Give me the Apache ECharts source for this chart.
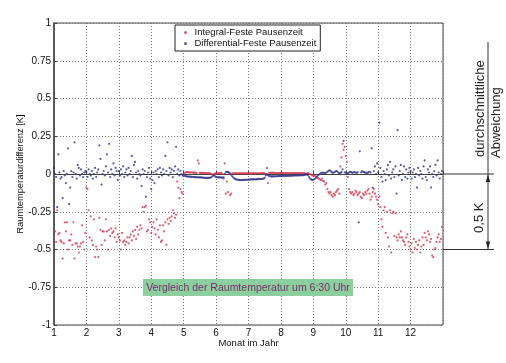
<!DOCTYPE html>
<html>
<head>
<meta charset="utf-8">
<script src="https://cdn.jsdelivr.net/npm/echarts@6/dist/echarts.min.js"></script>
<style>html,body{margin:0;padding:0;background:#fff}#c{width:506px;height:363px}</style>
</head>
<body>
<div id="c"></div>
<script>
// Month ticks (x axis), y ticks
const monthTicks = [1,2,3,4,5,6,7,8,9,10,11,12,13];
const yTicks = [-1,-0.75,-0.5,-0.25,0,0.25,0.5,0.75,1];
const seriesNames = ['Integral-Feste Pausenzeit', 'Differential-Feste Pausenzeit'];

// Daily values per month (Jan..Dec), Integral-Feste Pausenzeit
const integralValues = [
 [-0.42,-0.38,-0.45,-0.24,-0.4,-0.39,-0.44,-0.45,-0.56,-0.46,-0.32,-0.38,-0.32,-0.5,-0.44,-0.44,-0.4,-0.47,-0.32,-0.56,-0.46,-0.46,-0.48,-0.52,-0.48,-0.46,-0.34,-0.45,-0.5,-0.39],
 [-0.09,-0.1,-0.24,-0.42,-0.28,-0.44,-0.47,-0.3,-0.55,-0.48,-0.5,-0.55,-0.29,-0.37,-0.47,-0.38,-0.38,-0.44,-0.3,-0.38,-0.5,-0.37,-0.41,-0.36,-0.39,-0.38,-0.42,-0.36,-0.45,-0.4],
 [-0.42,-0.44,-0.5,-0.39,-0.45,-0.44,-0.47,-0.45,-0.42,-0.46,-0.42,-0.4,-0.44,-0.38,-0.41,-0.37,-0.43,-0.35,-0.4,-0.37,-0.34,-0.36,-0.22,-0.25,-0.22,-0.21,-0.38,-0.37,-0.3,-0.32],
 [-0.39,-0.35,-0.32,-0.36,-0.4,-0.3,-0.37,-0.42,-0.34,-0.45,-0.44,-0.34,-0.38,-0.32,-0.47,-0.3,-0.33,-0.29,-0.31,-0.28,-0.24,-0.26,-0.29,-0.27,-0.05,-0.09,-0.16,-0.1,-0.12,-0.13],
 [0.0,0.008,0.01,0.012,0.012,0.011,0.01,0.01,0.01,0.009,0.009,0.008,0.008,0.09,0.07,0.008,0.007,0.007,0.007,0.006,0.006,0.006,0.005,0.005,0.004,0.003,0.0,-0.006,-0.002,0.004],
 [0.004,0.005,0.005,0.006,0.006,0.006,0.0,-0.03,0.07,-0.13,-0.05,-0.12,0.0,-0.14,-0.13,0.004,0.005,0.005,0.005,0.005,0.005,0.005,0.005,0.005,0.004,0.004,0.004,0.004,0.004,0.004],
 [0.004,0.004,0.004,0.004,0.004,0.005,0.005,0.005,0.005,0.005,0.005,0.005,0.006,0.006,0.006,0.005,0.0,0.04,-0.06,0.006,0.007,0.007,0.007,0.007,0.007,0.006,0.006,0.006,0.006,0.006],
 [0.006,0.006,0.006,0.006,0.006,0.006,0.006,0.006,0.006,0.006,0.006,0.006,0.006,0.006,0.006,0.006,0.006,0.006,0.006,0.006,0.006,0.006,0.004,0.0,-0.004,0.004,0.002,0.0,-0.005,-0.01],
 [-0.012,-0.01,-0.015,-0.02,-0.025,-0.03,-0.035,-0.04,-0.03,-0.045,-0.05,-0.07,-0.06,-0.1,-0.12,-0.13,-0.12,-0.14,-0.15,-0.13,-0.14,-0.12,-0.11,-0.1,-0.13,0.05,0.11,0.2,0.16,0.18],
 [0.12,0.08,-0.02,-0.1,-0.12,-0.13,-0.12,-0.14,-0.13,-0.11,-0.12,-0.14,-0.13,-0.12,-0.15,-0.16,-0.13,-0.14,-0.12,-0.13,-0.11,-0.1,-0.13,-0.17,-0.15,-0.12,-0.1,-0.13,-0.15,-0.17],
 [-0.2,-0.15,-0.22,-0.3,-0.35,-0.24,-0.22,-0.39,-0.25,-0.42,-0.48,-0.24,-0.52,-0.26,-0.25,-0.41,-0.26,-0.42,-0.44,-0.4,-0.42,-0.38,-0.42,-0.44,-0.45,-0.47,-0.42,-0.4,-0.45,-0.48],
 [-0.5,-0.46,-0.52,-0.43,-0.49,-0.45,-0.5,-0.47,-0.44,-0.52,-0.48,-0.42,-0.47,-0.39,-0.42,-0.44,-0.38,-0.4,-0.45,-0.43,-0.54,-0.55,-0.5,-0.49,-0.45,-0.42,-0.4,-0.45,-0.43,-0.35]
];

// Daily values per month (Jan..Dec), Differential-Feste Pausenzeit
const differentialValues = [
 [0.04,0.0,-0.02,-0.22,0.13,0.01,-0.03,-0.02,-0.16,0.02,-0.01,-0.06,0.0,0.17,-0.2,-0.09,0.02,-0.02,0.01,0.21,0.0,-0.03,0.06,0.04,-0.01,0.03,0.0,-0.02,0.01,0.02],
 [0.01,-0.02,0.03,0.0,-0.01,0.02,-0.03,0.0,0.04,-0.02,0.01,0.03,0.19,0.1,-0.07,0.0,0.02,-0.01,0.05,0.13,0.01,0.2,-0.02,0.03,0.0,0.07,-0.01,0.04,0.02,-0.04],
 [0.02,-0.01,0.03,0.0,0.05,-0.02,0.01,0.03,-0.01,0.04,0.0,0.02,0.12,-0.02,0.06,0.08,0.01,-0.03,0.02,0.0,-0.01,-0.08,0.03,0.0,0.02,-0.15,-0.02,0.01,0.04,-0.03],
 [-0.1,-0.04,0.01,-0.06,0.02,0.0,0.03,-0.02,0.04,0.01,-0.01,0.03,0.0,0.12,0.02,0.21,-0.01,0.04,0.01,0.03,-0.02,0.02,0.05,0.18,0.0,0.03,-0.01,0.02,0.0,-0.01],
 [-0.01,-0.012,-0.015,-0.016,-0.017,-0.018,-0.018,-0.019,-0.02,-0.02,-0.021,-0.021,-0.022,-0.022,-0.022,-0.023,-0.023,-0.024,-0.024,-0.025,-0.025,-0.025,-0.026,-0.026,-0.025,-0.024,-0.02,-0.012,-0.008,-0.015],
 [-0.02,-0.022,-0.022,-0.023,-0.023,-0.024,-0.024,-0.022,0.0,0.012,0.015,0.014,0.01,0.004,-0.005,-0.015,-0.024,-0.03,-0.034,-0.037,-0.038,-0.039,-0.04,-0.04,-0.04,-0.04,-0.039,-0.039,-0.038,-0.038],
 [-0.037,-0.037,-0.036,-0.036,-0.036,-0.035,-0.035,-0.035,-0.034,-0.034,-0.034,-0.033,-0.033,-0.032,-0.03,-0.025,-0.01,0.0,-0.008,-0.012,-0.015,-0.016,-0.016,-0.016,-0.015,-0.015,-0.015,-0.014,-0.014,-0.014],
 [-0.014,-0.013,-0.013,-0.013,-0.012,-0.012,-0.012,-0.012,-0.011,-0.011,-0.011,-0.011,-0.01,-0.01,-0.01,-0.01,-0.01,-0.009,-0.009,-0.009,-0.008,-0.008,-0.006,-0.003,0.002,-0.008,-0.02,-0.03,-0.036,-0.04],
 [-0.038,-0.034,-0.028,-0.02,-0.012,-0.005,0.0,0.005,0.008,0.01,0.006,0.004,0.01,0.015,0.02,0.025,0.02,0.012,0.008,0.01,0.015,0.02,0.018,0.01,0.005,0.008,0.012,0.03,0.22,0.01],
 [0.01,0.0,0.005,0.01,0.015,0.012,0.008,0.01,0.015,0.01,0.005,0.012,-0.32,0.15,0.01,0.02,0.015,0.012,0.008,0.01,0.005,0.012,0.015,0.01,0.17,-0.09,0.02,0.05,0.0,0.07],
 [0.01,0.34,0.04,-0.02,-0.05,0.02,0.0,-0.04,0.03,0.06,-0.01,0.08,-0.03,0.01,0.03,-0.02,0.05,-0.13,0.29,-0.01,0.02,0.06,-0.04,0.0,0.05,-0.02,0.03,-0.03,0.01,0.04],
 [0.02,-0.03,0.01,0.03,-0.02,0.0,-0.09,0.04,-0.01,0.02,0.0,-0.03,0.05,0.09,-0.02,-0.04,0.03,0.01,0.05,-0.09,0.0,-0.02,0.02,0.06,-0.01,0.09,0.01,-0.03,0.0,0.02]
];

function toPoints(months) {
  const pts = [];
  months.forEach(function (vals, m) {
    vals.forEach(function (v, j) {
      pts.push([monthTicks[m] + j / vals.length, v]);
    });
  });
  return pts;
}

const FONT = 'Liberation Sans, Arial, Helvetica, sans-serif';
const chart = echarts.init(document.getElementById('c'), null, {renderer: 'canvas'});

const option = {
  animation: false,
  backgroundColor: '#ffffff',
  textStyle: {fontFamily: FONT},
  grid: {left: 54, right: 63, top: 23, bottom: 38, show: true, borderColor: '#444', borderWidth: 1, backgroundColor: 'transparent'},
  legend: {
    left: 175, top: 25, orient: 'vertical',
    backgroundColor: '#fff', borderColor: '#222', borderWidth: 1, borderRadius: 0,
    padding: [2, 4, 2, 9], itemGap: 0, itemWidth: 8, itemHeight: 3,
    textStyle: {fontSize: 9.5, color: '#111', fontFamily: FONT, lineHeight: 11},
    data: [{name: seriesNames[0], icon: 'circle'}, {name: seriesNames[1], icon: 'circle'}]
  },
  xAxis: {
    type: 'value', min: monthTicks[0], max: monthTicks[monthTicks.length - 1], interval: 1,
    name: 'Monat im Jahr', nameLocation: 'middle', nameGap: 13, nameMoveOverlap: false,
    nameTextStyle: {fontSize: 9.5, color: '#111', fontFamily: FONT},
    axisLine: {lineStyle: {color: '#444', width: 1}},
    axisTick: {inside: true, length: 3, lineStyle: {color: '#444'}},
    axisLabel: {fontSize: 10, color: '#111', margin: 3, fontFamily: FONT,
      formatter: function (v) { return v === 13 ? '' : String(v); }},
    splitLine: {show: true, lineStyle: {color: '#7a7a7a', type: [1, 2], width: 1}}
  },
  yAxis: {
    type: 'value', min: yTicks[0], max: yTicks[yTicks.length - 1], interval: 0.25,
    name: 'Raumtemperaturdifferenz [K]', nameLocation: 'middle', nameGap: 29, nameMoveOverlap: false,
    nameTextStyle: {fontSize: 9.3, color: '#111', fontFamily: FONT},
    axisLine: {lineStyle: {color: '#444', width: 1.5}},
    axisTick: {inside: true, length: 3, lineStyle: {color: '#444'}},
    axisLabel: {fontSize: 10, color: '#111', margin: 3, fontFamily: FONT},
    splitLine: {show: true, lineStyle: {color: '#7a7a7a', type: [1, 2], width: 1}}
  },
  series: [
    {name: seriesNames[0], type: 'scatter', symbol: 'circle', symbolSize: 2.2,
     itemStyle: {color: '#d2364f'}, data: toPoints(integralValues), z: 3},
    {name: seriesNames[1], type: 'scatter', symbol: 'circle', symbolSize: 2.2,
     itemStyle: {color: '#2d3585'}, data: toPoints(differentialValues), z: 4}
  ]
};
chart.setOption(option);

// Annotations (right side dimension, green caption)
const pZero = chart.convertToPixel({gridIndex: 0}, [13, 0]);
const pHalf = chart.convertToPixel({gridIndex: 0}, [13, -0.5]);
const xr = pZero[0];
const y0 = pZero[1], y5 = pHalf[1];
const vx = 488;
const lineStyle = {stroke: '#333', lineWidth: 1};
chart.setOption({
  graphic: [
    {type: 'rect', shape: {x: 143, y: 279, width: 210, height: 17}, style: {fill: '#8ccf9e'}, z: 10},
    {type: 'text', x: 248, y: 288, z: 11, style: {text: 'Vergleich der Raumtemperatur um 6:30 Uhr', fill: '#7a2b6c', font: '10.5px ' + FONT, align: 'center', verticalAlign: 'middle'}},
    {type: 'line', shape: {x1: xr, y1: y0, x2: 494, y2: y0}, style: lineStyle, z: 10},
    {type: 'line', shape: {x1: xr, y1: y5, x2: 494, y2: y5}, style: lineStyle, z: 10},
    {type: 'line', shape: {x1: vx, y1: 42, x2: vx, y2: y0}, style: lineStyle, z: 10},
    {type: 'line', shape: {x1: vx, y1: y0, x2: vx, y2: y5}, style: lineStyle, z: 10},
    {type: 'polygon', shape: {points: [[vx, y0 + 0.5], [vx - 2.2, y0 + 8], [vx + 2.2, y0 + 8]]}, style: {fill: '#222'}, z: 10},
    {type: 'polygon', shape: {points: [[vx, y5 - 0.5], [vx - 2.2, y5 - 8], [vx + 2.2, y5 - 8]]}, style: {fill: '#222'}, z: 10},
    {type: 'text', x: 480, y: 157, rotation: Math.PI / 2, z: 11, style: {text: 'durchschnittliche', fill: '#222', font: '13px ' + FONT, align: 'left', verticalAlign: 'middle'}},
    {type: 'text', x: 496, y: 158, rotation: Math.PI / 2, z: 11, style: {text: 'Abweichung', fill: '#222', font: '13px ' + FONT, align: 'left', verticalAlign: 'middle'}},
    {type: 'text', x: 479, y: (y0 + y5) / 2 + 6, rotation: Math.PI / 2, z: 11, style: {text: '0,5 K', fill: '#222', font: '13px ' + FONT, align: 'center', verticalAlign: 'middle'}}
  ]
});
</script>
</body>
</html>
